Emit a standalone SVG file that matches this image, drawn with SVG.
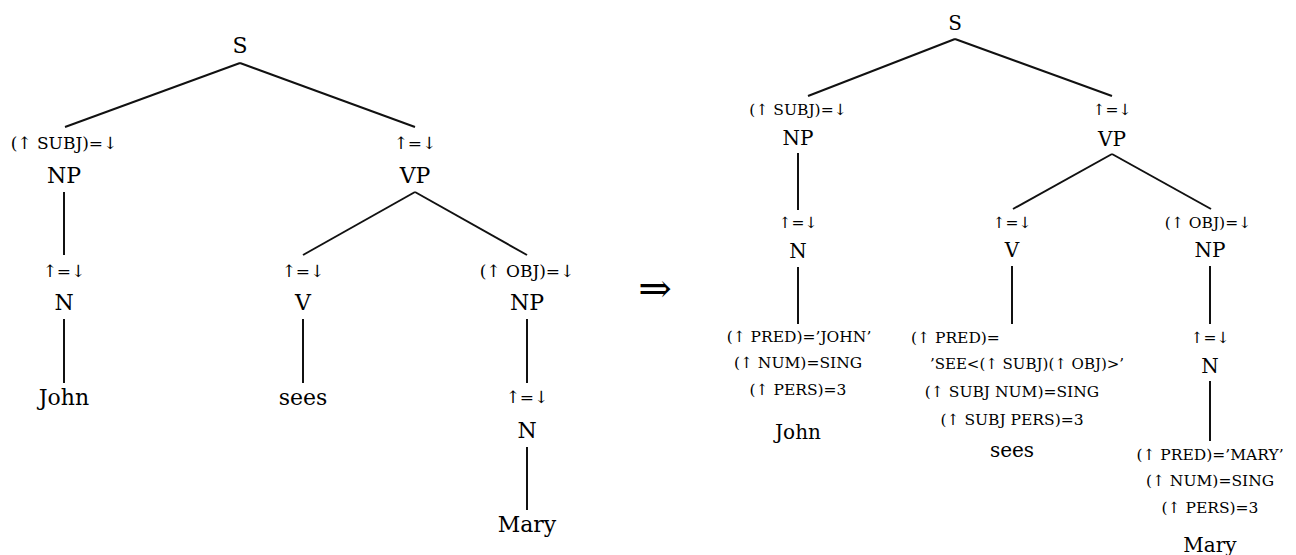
<svg xmlns="http://www.w3.org/2000/svg" width="1296" height="555" viewBox="0 0 1296 555">
<style>
text{font-family:"DejaVu Serif","Liberation Serif",serif;fill:#000;text-anchor:middle}
.L{font-size:22px}
.La{font-size:17px}
.R{font-size:20px}
.Ra{font-size:15.5px}
.st{text-anchor:start}
#edges line{stroke:#111;stroke-width:2;stroke-linecap:butt}
</style>
<rect width="1296" height="555" fill="#fff"/>
<g id="edges">
<line x1="240" y1="63" x2="65" y2="127"/>
<line x1="240" y1="63" x2="415" y2="127"/>
<line x1="64" y1="192" x2="64" y2="255"/>
<line x1="64" y1="319" x2="64" y2="383"/>
<line x1="415" y1="192" x2="303" y2="255"/>
<line x1="415" y1="192" x2="527" y2="255"/>
<line x1="303" y1="319" x2="303" y2="383"/>
<line x1="527" y1="319" x2="527" y2="383"/>
<line x1="527" y1="447" x2="527" y2="510"/>
<line x1="955" y1="39" x2="808" y2="96"/>
<line x1="955" y1="39" x2="1112" y2="96"/>
<line x1="798" y1="153" x2="798" y2="210"/>
<line x1="798" y1="267" x2="798" y2="324"/>
<line x1="1112" y1="154" x2="1013" y2="209"/>
<line x1="1112" y1="154" x2="1211" y2="209"/>
<line x1="1012" y1="266" x2="1012" y2="324"/>
<line x1="1210" y1="266" x2="1210" y2="324"/>
<line x1="1210" y1="381" x2="1210" y2="441"/>
</g>
<g id="left-S"><text class="L" x="240" y="53">S</text></g>
<g id="left-NP"><text class="La" x="64" y="149">(↑ SUBJ)=↓</text><text class="L" x="64" y="183">NP</text></g>
<g id="left-N1"><text class="La" x="64" y="277">↑=↓</text><text class="L" x="64" y="310">N</text></g>
<g id="left-John"><text class="L" x="64" y="405">John</text></g>
<g id="left-VP"><text class="La" x="415" y="149">↑=↓</text><text class="L" x="415" y="183">VP</text></g>
<g id="left-V"><text class="La" x="303" y="277">↑=↓</text><text class="L" x="303" y="310">V</text></g>
<g id="left-sees"><text class="L" x="303" y="405">sees</text></g>
<g id="left-NP2"><text class="La" x="527" y="277">(↑ OBJ)=↓</text><text class="L" x="527" y="310">NP</text></g>
<g id="left-N2"><text class="La" x="527" y="403">↑=↓</text><text class="L" x="527" y="438">N</text></g>
<g id="left-Mary"><text class="L" x="527" y="532">Mary</text></g>
<g id="arrow"><text x="655" y="302" style="font-size:40px">⇒</text></g>
<g id="right-S"><text class="R" x="955" y="30">S</text></g>
<g id="right-NP"><text class="Ra" x="798" y="115">(↑ SUBJ)=↓</text><text class="R" x="798" y="145">NP</text></g>
<g id="right-N1"><text class="Ra" x="798" y="228">↑=↓</text><text class="R" x="798" y="258">N</text></g>
<g id="right-John"><text class="Ra" x="799" y="342">(↑ PRED)=’JOHN’</text><text class="Ra" x="798" y="368">(↑ NUM)=SING</text><text class="Ra" x="798" y="395">(↑ PERS)=3</text><text class="R" x="798" y="439">John</text></g>
<g id="right-VP"><text class="Ra" x="1112" y="115">↑=↓</text><text class="R" x="1112" y="146">VP</text></g>
<g id="right-V"><text class="Ra" x="1012" y="228">↑=↓</text><text class="R" x="1012" y="257">V</text></g>
<g id="right-sees"><text class="Ra st" x="911" y="343">(↑ PRED)=</text><text class="Ra" x="1027" y="369" style="font-size:15px">’SEE&lt;(↑ SUBJ)(↑ OBJ)&gt;’</text><text class="Ra" x="1012" y="397">(↑ SUBJ NUM)=SING</text><text class="Ra" x="1012" y="425">(↑ SUBJ PERS)=3</text><text class="R" x="1012" y="457">sees</text></g>
<g id="right-NP2"><text class="Ra" x="1208" y="228">(↑ OBJ)=↓</text><text class="R" x="1210" y="257">NP</text></g>
<g id="right-N2"><text class="Ra" x="1210" y="343">↑=↓</text><text class="R" x="1210" y="373">N</text></g>
<g id="right-Mary"><text class="Ra" x="1210" y="460">(↑ PRED)=’MARY’</text><text class="Ra" x="1210" y="486">(↑ NUM)=SING</text><text class="Ra" x="1210" y="513">(↑ PERS)=3</text><text class="R" x="1210" y="552">Mary</text></g>
</svg>
